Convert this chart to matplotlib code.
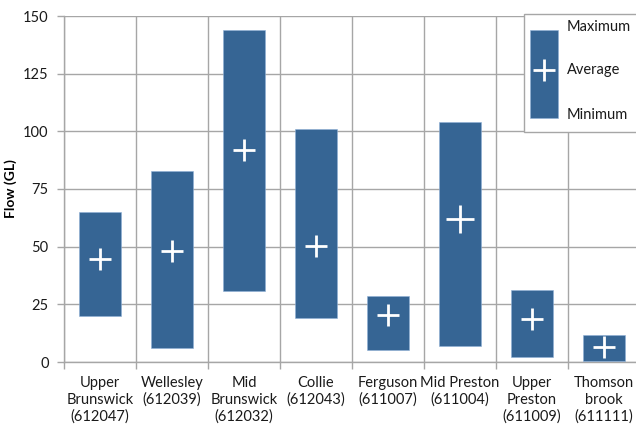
import matplotlib
matplotlib.use('Agg')
import matplotlib.pyplot as plt
import numpy as np

# Data (flow in GL)
sites = ['Upper\nBrunswick\n(612047)', 'Wellesley\n(612039)', 'Mid\nBrunswick\n(612032)',
         'Collie\n(612043)', 'Ferguson\n(611007)', 'Mid Preston\n(611004)',
         'Upper\nPreston\n(611009)', 'Thomson\nbrook\n(611111)']
flow_max = [65.0, 82.8, 143.9, 101.0, 28.6, 104.0, 31.2, 11.7]
flow_min = [19.9, 6.1, 30.8, 19.1, 5.2, 6.9, 2.2, 0.4]
flow_avg = [44.6, 48.1, 91.9, 50.3, 20.4, 62.0, 18.6, 6.5]
y_ticks = [0, 25, 50, 75, 100, 125, 150]

BAR_COLOR = '#366594'
GRID_COLOR = '#a6a6a6'
TEXT_COLOR = '#1a1a1a'
marker_sizes = [16, 16, 16, 16, 16, 16, 16, 16]
marker_sizes[5] = 20

plt.rcParams['font.family'] = ['Lato', 'DejaVu Sans']

fig = plt.figure(figsize=(6.36, 4.24), dpi=100)
ax = fig.add_axes([64 / 636, 1 - 362 / 424, 576 / 636, 346 / 424])

x = np.arange(len(sites))
heights = np.array(flow_max) - np.array(flow_min)
ax.bar(x, heights, bottom=flow_min, width=0.58, color=BAR_COLOR,
       edgecolor='#8fb0d6', linewidth=0.4, zorder=3)
for xi, avg, ms in zip(x, flow_avg, marker_sizes):
    ax.plot(xi, avg, marker='+', color='white', markersize=ms,
            markeredgewidth=2, zorder=4)

ax.set_xlim(-0.5, len(sites) - 0.5)
ax.set_ylim(0, 150)
ax.set_yticks(y_ticks)
ax.set_yticklabels([str(t) for t in y_ticks], fontsize=10.5, color=TEXT_COLOR)

# category labels in middle, separators on boundaries
ax.set_xticks(x)
ax.set_xticklabels(sites, fontsize=10.5, color=TEXT_COLOR, linespacing=1.25)
ax.tick_params(axis='x', length=0, pad=10)
ax.set_xticks(np.arange(-0.5, len(sites)), minor=True)
ax.tick_params(axis='x', which='minor', length=5, color=GRID_COLOR, width=1)
ax.tick_params(axis='y', length=5, color=GRID_COLOR, width=1, pad=6)

ax.grid(True, axis='y', color=GRID_COLOR, linewidth=1, zorder=0)
ax.grid(True, axis='x', which='minor', color=GRID_COLOR, linewidth=1, zorder=0)

for side in ['top', 'right']:
    ax.spines[side].set_visible(False)
for side in ['left', 'bottom']:
    ax.spines[side].set_color(GRID_COLOR)
    ax.spines[side].set_linewidth(1)

ax.set_ylabel('Flow (GL)', fontsize=10, fontweight='bold', color='black')
ax.yaxis.set_label_coords(-0.082, 0.5)

# Custom legend box
tr = ax.transAxes
ax.add_patch(plt.Rectangle((0.799, 0.665), 0.25, 0.34, transform=tr, facecolor='white',
                           edgecolor=GRID_COLOR, linewidth=1, zorder=5, clip_on=False))
ax.add_patch(plt.Rectangle((0.809, 0.705), 0.049, 0.255, transform=tr, facecolor=BAR_COLOR,
                           edgecolor='#8fb0d6', linewidth=0.4, zorder=6, clip_on=False))
ax.plot(0.8335, 0.844, marker='+', color='white', markersize=16, markeredgewidth=2,
        transform=tr, zorder=7, clip_on=False)
for label, ypos in [('Maximum', 0.967), ('Average', 0.844), ('Minimum', 0.713)]:
    ax.text(0.873, ypos, label, transform=tr, fontsize=10.5, color=TEXT_COLOR,
            va='center', ha='left', zorder=7)

fig.savefig('out.png', dpi=100)
